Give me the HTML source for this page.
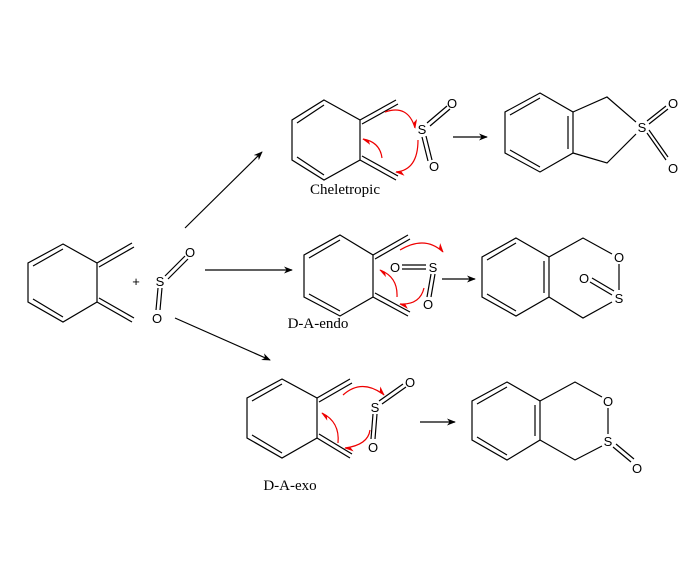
<!DOCTYPE html>
<html><head><meta charset="utf-8"><style>
html,body{margin:0;padding:0;background:#fff;}
svg{display:block;}
text{font-family:"Liberation Sans",sans-serif;font-size:13px;fill:#000;}
.lab{font-family:"Liberation Serif",serif;font-size:15px;}
</style></head><body>
<svg width="698" height="562" viewBox="0 0 698 562" xmlns="http://www.w3.org/2000/svg">
<defs>
<marker id="ab" viewBox="0 0 10 10" refX="9" refY="5" markerWidth="9" markerHeight="9" orient="auto" markerUnits="userSpaceOnUse"><path d="M0,1 L10,5 L0,9 L3,5z" fill="#000"/></marker>
<marker id="ar" viewBox="0 0 10 10" refX="9" refY="5" markerWidth="9" markerHeight="9" orient="auto" markerUnits="userSpaceOnUse"><path d="M0,0 L10,5 L3,5z" fill="#e00"/></marker>
</defs>
<g stroke="#000" stroke-width="1.2" fill="none">
<!-- start diene -->
<path d="M63,244 L97,263 L97,302 L63,322 L28,302 L28,263 Z"/>
<path d="M33,266 L63,249 M33,299 L63,317"/>
<path d="M97,263 L132,243 M99,267 L134,247 M97,302 L132,322 M99,298 L134,318"/>
<path d="M165,276 L185,256 M168,279 L188,259 M158,288 L156,310 M162,288 L160,310"/>
<!-- arrows -->
<path d="M185,228 L262,152" marker-end="url(#ab)"/>
<path d="M205,270 L292,270" marker-end="url(#ab)"/>
<path d="M175,318 L270,360" marker-end="url(#ab)"/>
<path d="M453,137 L487,137" marker-end="url(#ab)"/>
<path d="M442,279 L475,279" marker-end="url(#ab)"/>
<path d="M420,422 L455,422" marker-end="url(#ab)"/>
<!-- top diene -->
<path d="M324,100 L360,120 L360,160 L324,180 L292,160 L292,120 Z"/>
<path d="M297,123 L324,105 M297,157 L324,175"/>
<path d="M360,120 L396,100 M362,124 L398,104 M360,160 L396,180 M362,156 L398,176"/>
<path d="M427,123 L447,106 M430,126 L450,109 M422,137 L428,161 M426,136 L432,160"/>
<!-- top product -->
<path d="M540,93 L573,112 L573,153 L540,172 L505,153 L505,112 Z"/>
<path d="M510,115 L540,98 M568,116 L568,149 M510,150 L540,167"/>
<path d="M573,112 L607,97 L636,122 M573,153 L607,163 L636,134"/>
<path d="M647,121 L666,106 M649,124 L668,109 M647,133 L666,160 M649,130 L668,157"/>
<!-- middle diene -->
<path d="M340,235 L373,255 L373,297 L340,316 L304,297 L304,255 Z"/>
<path d="M309,258 L340,240 M309,294 L340,311"/>
<path d="M373,255 L408,235 M375,259 L410,239 M373,297 L408,316 M375,293 L410,312"/>
<path d="M402,265 L426,265 M402,269 L426,269 M431,274 L427,297 M435,274 L431,297"/>
<!-- middle product -->
<path d="M516,238 L549,257 L549,297 L516,316 L482,297 L482,257 Z"/>
<path d="M487,260 L516,243 M544,261 L544,293 M487,294 L516,311"/>
<path d="M549,257 L583,238 L612,254 M619,264 L619,290 M612,302 L583,318 L549,297"/>
<path d="M590,282 L612,295 M592,278 L614,291"/>
<!-- bottom diene -->
<path d="M282,379 L317,398 L317,438 L282,458 L247,438 L247,398 Z"/>
<path d="M252,401 L282,384 M252,435 L282,453"/>
<path d="M317,398 L350,379 M319,402 L352,383 M317,438 L350,458 M319,434 L352,454"/>
<path d="M379,401 L403,384 M382,404 L406,387 M373,414 L371,439 M377,414 L375,439"/>
<!-- bottom product -->
<path d="M507,382 L540,401 L540,440 L507,460 L472,440 L472,401 Z"/>
<path d="M477,404 L507,387 M535,405 L535,436 M477,437 L507,455"/>
<path d="M540,401 L575,382 L602,397 M608,408 L608,434 M602,446 L575,460 L540,440"/>
<path d="M613,447 L631,462 M616,444 L634,459"/>
</g>
<!-- red curved arrows -->
<g stroke="#e00" stroke-width="1.2" fill="none">
<path d="M385,112 Q408,104 415,128" marker-end="url(#ar)"/>
<path d="M418,140 Q418,170 396,172" marker-end="url(#ar)"/>
<path d="M382,158 Q380,142 363,139" marker-end="url(#ar)"/>
<path d="M400,250 Q425,235 443,252" marker-end="url(#ar)"/>
<path d="M424,288 Q420,305 400,304" marker-end="url(#ar)"/>
<path d="M397,297 Q398,277 380,270" marker-end="url(#ar)"/>
<path d="M343,395 Q362,378 384,395" marker-end="url(#ar)"/>
<path d="M370,430 Q368,445 345,448" marker-end="url(#ar)"/>
<path d="M338,443 Q340,422 322,413" marker-end="url(#ar)"/>
</g>
<g text-anchor="middle">
<text x="136" y="286" font-size="12">+</text>
<text x="160" y="286">S</text><text x="190" y="257">O</text><text x="157" y="323">O</text>
<text x="422" y="134">S</text><text x="452" y="108">O</text><text x="434" y="171">O</text>
<text x="642" y="132">S</text><text x="673" y="108">O</text><text x="673" y="173">O</text>
<text x="395" y="272">O</text><text x="433" y="272">S</text><text x="428" y="309">O</text>
<text x="619" y="262">O</text><text x="619" y="303">S</text><text x="584" y="283">O</text>
<text x="375" y="412">S</text><text x="410" y="387">O</text><text x="373" y="452">O</text>
<text x="608" y="406">O</text><text x="608" y="446">S</text><text x="637" y="473">O</text>
<text class="lab" x="345" y="194">Cheletropic</text>
<text class="lab" x="318" y="328">D-A-endo</text>
<text class="lab" x="290" y="490">D-A-exo</text>
</g>
</svg>
</body></html>
